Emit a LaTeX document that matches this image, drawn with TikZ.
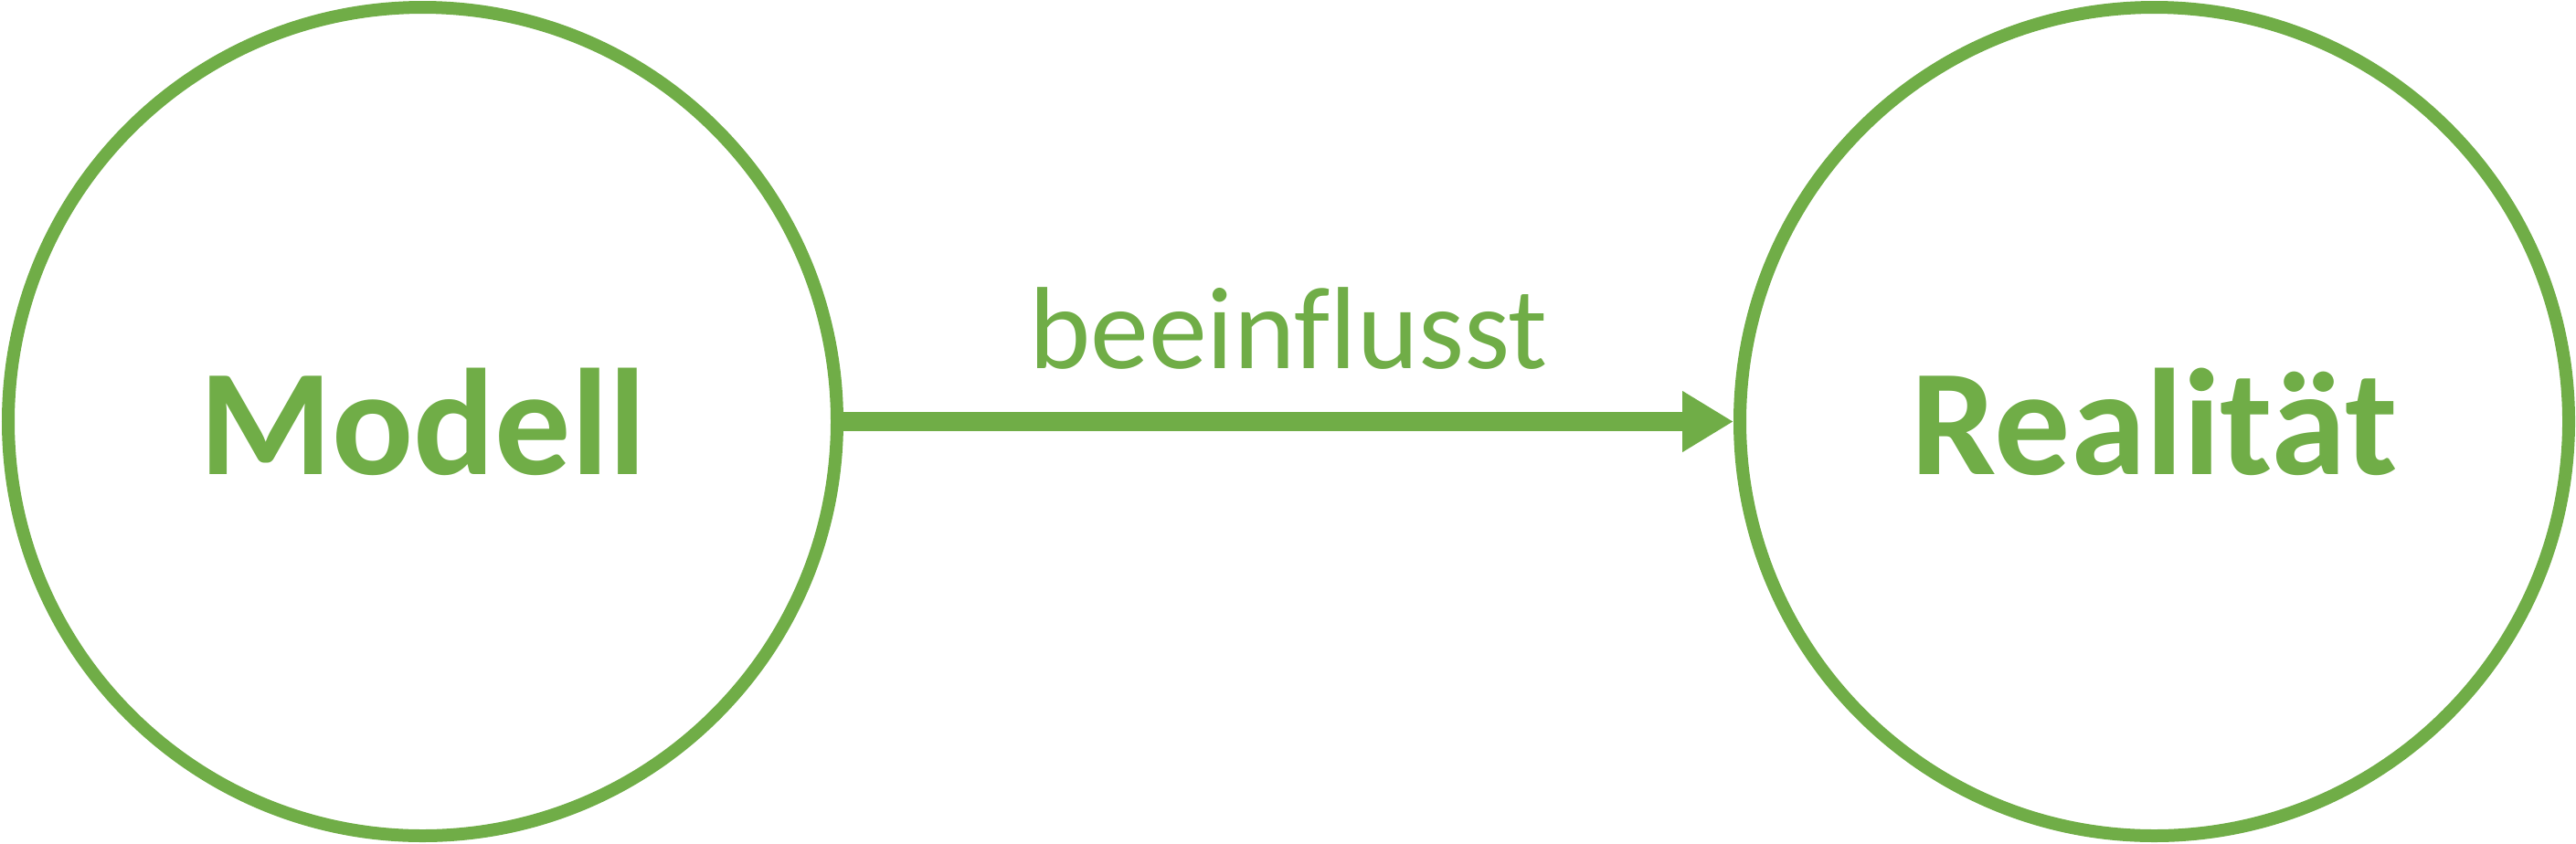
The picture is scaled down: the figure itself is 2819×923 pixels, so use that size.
\documentclass[tikz,border=0pt]{standalone}
\usepackage{fontspec}
\setmainfont{Carlito}[Ligatures=CommonOff]
\usetikzlibrary{arrows.meta}
\definecolor{officegreen}{HTML}{70AD47}
\begin{document}
\begin{tikzpicture}[x=0.5pt,y=-0.5pt]
	\useasboundingbox (0,0) rectangle (2819,923);
	\tikzset{world/.style={draw=officegreen,shape=circle,line width=7pt,minimum size=453.5pt,inner sep=0pt,font=\bfseries\fontsize{83}{100}\selectfont,text=officegreen}}
	\node[world] (M) at (462.5,461.5) {Modell};
	\node[world] (R) at (2357.5,461.5) {Realität};
	
	\draw[officegreen,line width=10.5pt,-{Triangle[length=28pt,width=31.5pt]}] (M.east) -- (R.west) node[midway,above=20pt,text=officegreen,font=\fontsize{64}{77}\selectfont] (L) {beeinflusst};
\end{tikzpicture}
\end{document}
